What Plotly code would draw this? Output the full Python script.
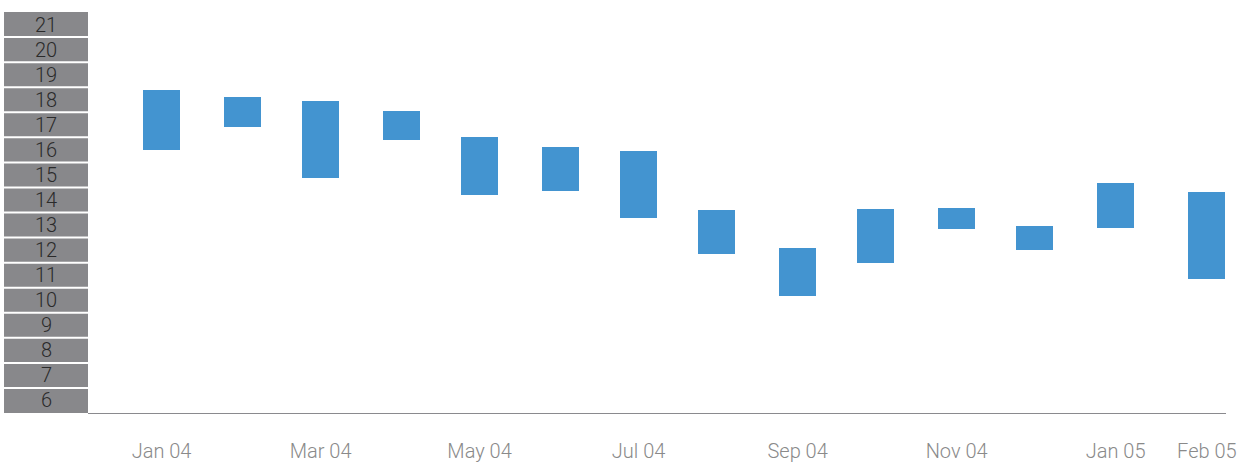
import plotly.graph_objects as go

dates = ["2004-01-01", "2004-02-01", "2004-03-02", "2004-04-02", "2004-05-02",
         "2004-06-02", "2004-07-02", "2004-08-01", "2004-09-01", "2004-10-01",
         "2004-11-01", "2004-12-01", "2005-01-01", "2005-02-05"]
highs = [18.39, 18.11, 17.95, 17.55, 16.51, 16.11, 15.95, 13.60, 12.08, 13.64,
         13.68, 12.96, 14.68, 14.32]
lows = [15.99, 16.91, 14.88, 16.39, 14.20, 14.36, 13.28, 11.84, 10.17, 11.49,
        12.84, 12.00, 12.88, 10.85]

tick_dates = ["2004-01-01", "2004-03-02", "2004-05-02", "2004-07-02",
              "2004-09-01", "2004-11-01", "2005-01-01", "2005-02-05"]
tick_labels = ["Jan 04", "Mar 04", "May 04", "Jul 04", "Sep 04", "Nov 04",
               "Jan 05", "Feb 05"]

y_labels = list(range(6, 22))

FONT = "Roboto"
DAY_MS = 86400000

fig = go.Figure()
fig.add_trace(go.Bar(
    x=dates,
    y=[h - l for h, l in zip(highs, lows)],
    base=lows,
    width=[14.2 * DAY_MS] * len(dates),
    marker=dict(color="#4394d0", line=dict(width=0)),
    hoverinfo="skip",
))

shapes = [dict(type="rect", xref="paper", yref="y", x0=-0.0738, x1=0,
               y0=5.5, y1=21.5, fillcolor="#88888b", line=dict(width=0),
               layer="below")]
for v in y_labels[:-1]:
    shapes.append(dict(type="line", xref="paper", yref="y", x0=-0.0738, x1=0,
                       y0=v + 0.5, y1=v + 0.5,
                       line=dict(color="#ffffff", width=2)))

annotations = [dict(xref="paper", yref="y", x=-0.0369, y=v, text=str(v),
                    showarrow=False, xanchor="center", yanchor="middle",
                    font=dict(family=FONT, size=20, color="#2a2a2a", weight=300))
               for v in y_labels]

fig.update_layout(
    width=1244, height=463,
    margin=dict(l=88, r=18, t=12, b=50, autoexpand=False),
    paper_bgcolor="#ffffff", plot_bgcolor="#ffffff",
    showlegend=False,
    bargap=0,
    shapes=shapes,
    annotations=annotations,
    xaxis=dict(
        type="date",
        range=["2003-12-03 19:00", "2005-02-12 08:00"],
        tickmode="array", tickvals=tick_dates, ticktext=tick_labels,
        showgrid=False, zeroline=False, automargin=False,
        showline=True, linecolor="#8a8a8e", linewidth=1,
        ticks="", ticklabelstandoff=20,
        tickfont=dict(family=FONT, size=20, color="#8a8a8a", weight=300),
    ),
    yaxis=dict(
        range=[5.5, 21.5], showgrid=False, zeroline=False, automargin=False,
        showticklabels=False, showline=False, ticks="",
    ),
)

fig.write_html("out.html",
               config={"displayModeBar": False, "staticPlot": True},
               post_script="document.body.style.margin='0';document.body.style.overflow='hidden';")
